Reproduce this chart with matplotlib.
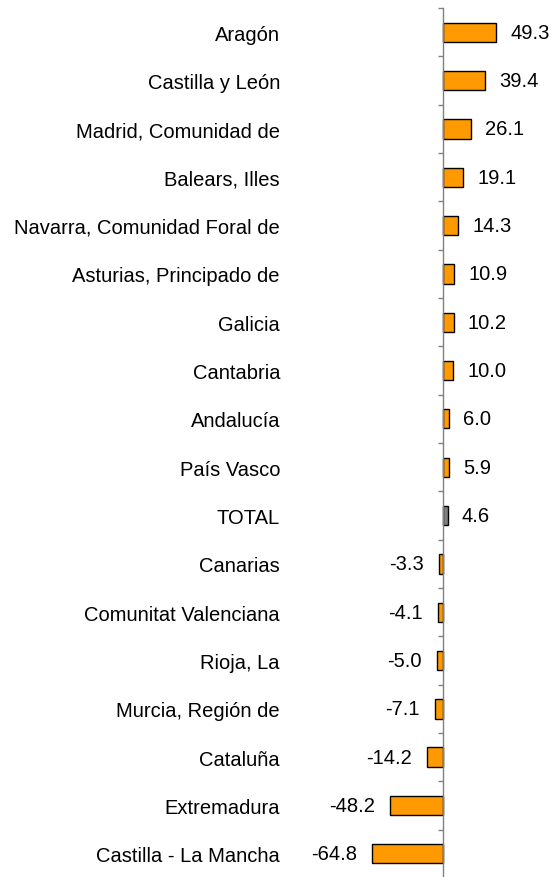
import matplotlib

matplotlib.use("Agg")
import matplotlib.pyplot as plt
from matplotlib.ticker import FixedLocator

regions = [
    "Aragón", "Castilla y León", "Madrid, Comunidad de", "Balears, Illes",
    "Navarra, Comunidad Foral de", "Asturias, Principado de", "Galicia",
    "Cantabria", "Andalucía", "País Vasco", "TOTAL", "Canarias",
    "Comunitat Valenciana", "Rioja, La", "Murcia, Región de", "Cataluña",
    "Extremadura", "Castilla - La Mancha",
]
values = [49.3, 39.4, 26.1, 19.1, 14.3, 10.9, 10.2, 10.0, 6.0, 5.9, 4.6,
          -3.3, -4.1, -5.0, -7.1, -14.2, -48.2, -64.8]

ORANGE = "#FF9900"
GREY = "#808080"
FS = 14.5

plt.rcParams["font.family"] = ["Liberation Sans", "DejaVu Sans"]

W, H, DPI = 555, 878, 100
fig = plt.figure(figsize=(W / DPI, H / DPI), dpi=DPI)
ax = fig.add_axes([442.5 / W, -1 / H, (W - 442.5) / W, 870 / H])

n = len(regions)
ypos = list(range(n))
colors = [GREY if r == "TOTAL" else ORANGE for r in regions]
ax.barh(ypos, values, height=0.4, color=colors, edgecolor="black",
        linewidth=1.0, clip_on=False, zorder=3)

for y, v in zip(ypos, values):
    off = 14 if v >= 0 else -15
    ax.annotate(f"{v:.1f}", (v, y), xytext=(off * 0.72, 0), textcoords="offset points",
                ha="left" if v >= 0 else "right", va="center", fontsize=FS,
                annotation_clip=False)

ax.set_xlim(0, (W - 442.5) / 1.088)
ax.set_ylim(n - 0.5, -0.5)
ax.set_yticks(ypos)
ax.set_yticklabels(regions, fontsize=FS)
ax.tick_params(axis="y", which="major", length=0, pad=(442.5 - 280) * 0.72)
ax.yaxis.set_minor_locator(FixedLocator([i - 0.5 for i in range(n + 1)]))
ax.tick_params(axis="y", which="minor", length=5 * 0.72, width=1, color=GREY,
               direction="out")
ax.set_xticks([])
for s in ("top", "right", "bottom"):
    ax.spines[s].set_visible(False)
ax.spines["left"].set_color(GREY)
ax.spines["left"].set_linewidth(1)
ax.spines["left"].set_zorder(4)
ax.patch.set_visible(False)

fig.savefig("out.png", dpi=DPI)
